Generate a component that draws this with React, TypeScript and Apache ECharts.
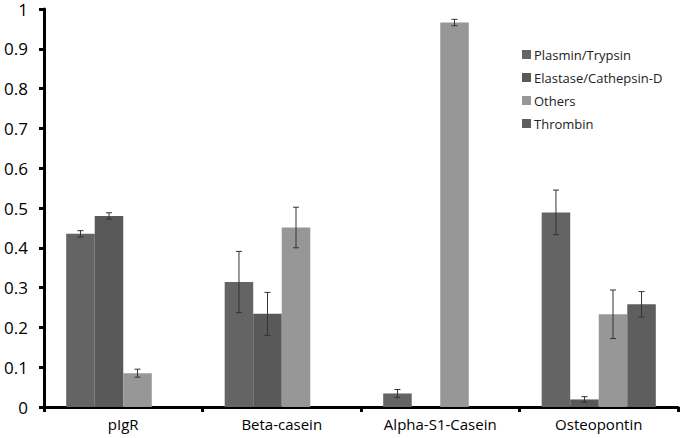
import React, { useEffect, useRef } from "react";
import * as echarts from "echarts";

const categories = ["pIgR", "Beta-casein", "Alpha-S1-Casein", "Osteopontin"];
const seriesNames = ["Plasmin/Trypsin", "Elastase/Cathepsin-D", "Others", "Thrombin"];
const plasmin = [0.435, 0.314, 0.034, 0.489];
const plasminErr = [0.008, 0.077, 0.01, 0.056];
const elastase = [0.48, 0.234, 0, 0.019];
const elastaseErr = [0.008, 0.054, 0, 0.007];
const others = [0.085, 0.451, 0.966, 0.233];
const othersErr = [0.01, 0.051, 0.008, 0.061];
const thrombin = [0, 0, 0, 0.258];
const thrombinErr = [0, 0, 0, 0.032];
const colors = ["#646464", "#595959", "#979797", "#5e5e5e"];

const GAP = 0.28;

export default function App() {
  const ref = useRef<HTMLDivElement>(null);
  useEffect(() => {
    if (!ref.current) return;
    const chart = echarts.init(ref.current, null, { renderer: "svg" });
    const values = [plasmin, elastase, others, thrombin];
    const errs = [plasminErr, elastaseErr, othersErr, thrombinErr];
    const errData: number[][] = [];
    values.forEach((vals, s) => {
      vals.forEach((v, c) => {
        if (errs[s][c] > 0) errData.push([c, v, errs[s][c], s]);
      });
    });
    const font = "Open Sans";
    chart.setOption({
      animation: false,
      grid: { left: 44, right: 2, top: 9, bottom: 31, containLabel: false },
      legend: {
        data: seriesNames,
        orient: "vertical",
        left: 517,
        top: 43,
        itemWidth: 9,
        itemHeight: 9,
        itemGap: 10,
        icon: "rect",
        textStyle: { fontFamily: font, fontSize: 13, color: "#222", padding: [0, 0, 0, -2] },
      },
      xAxis: {
        type: "category",
        data: categories,
        axisLine: { lineStyle: { color: "#000", width: 3 } },
        axisTick: { show: true, length: 5, lineStyle: { color: "#000", width: 3 } },
        axisLabel: { fontFamily: font, fontSize: 15, color: "#000", margin: 9 },
      },
      yAxis: {
        type: "value",
        min: 0,
        max: 1,
        interval: 0.1,
        splitLine: { show: false },
        axisLine: { show: true, lineStyle: { color: "#000", width: 3 } },
        axisTick: { show: true, length: 5, lineStyle: { color: "#000", width: 3 } },
        axisLabel: { fontFamily: font, fontSize: 17, lineHeight: 14, color: "#000", margin: 16 },
      },
      series: [
        ...seriesNames.map((name, i) => ({
          name,
          type: "bar",
          data: values[i],
          barGap: 0,
          barCategoryGap: GAP * 100 + "%",
          itemStyle: { color: colors[i] },
        })),
        {
          type: "custom",
          data: errData,
          encode: { x: 0, y: 1 },
          z: 10,
          renderItem: (params: any, api: any) => {
            const c = api.value(0);
            const v = api.value(1);
            const e = api.value(2);
            const s = api.value(3);
            const base = api.coord([c, 0]);
            const catW = api.size([1, 0])[0];
            const bw = (catW * (1 - GAP)) / 4;
            const x = base[0] + (s - 1.5) * bw;
            const top = api.coord([c, v + e])[1];
            const bot = api.coord([c, v - e])[1];
            const st = { stroke: "#333", lineWidth: 1 };
            return {
              type: "group",
              children: [
                { type: "line", shape: { x1: x, y1: top, x2: x, y2: bot }, style: st },
                { type: "line", shape: { x1: x - 3, y1: top, x2: x + 3, y2: top }, style: st },
                { type: "line", shape: { x1: x - 3, y1: bot, x2: x + 3, y2: bot }, style: st },
              ],
            };
          },
        },
      ],
    });
    return () => chart.dispose();
  }, []);
  return <div ref={ref} style={{ width: 680, height: 438, position: "absolute", left: 0, top: 0 }} />;
}
